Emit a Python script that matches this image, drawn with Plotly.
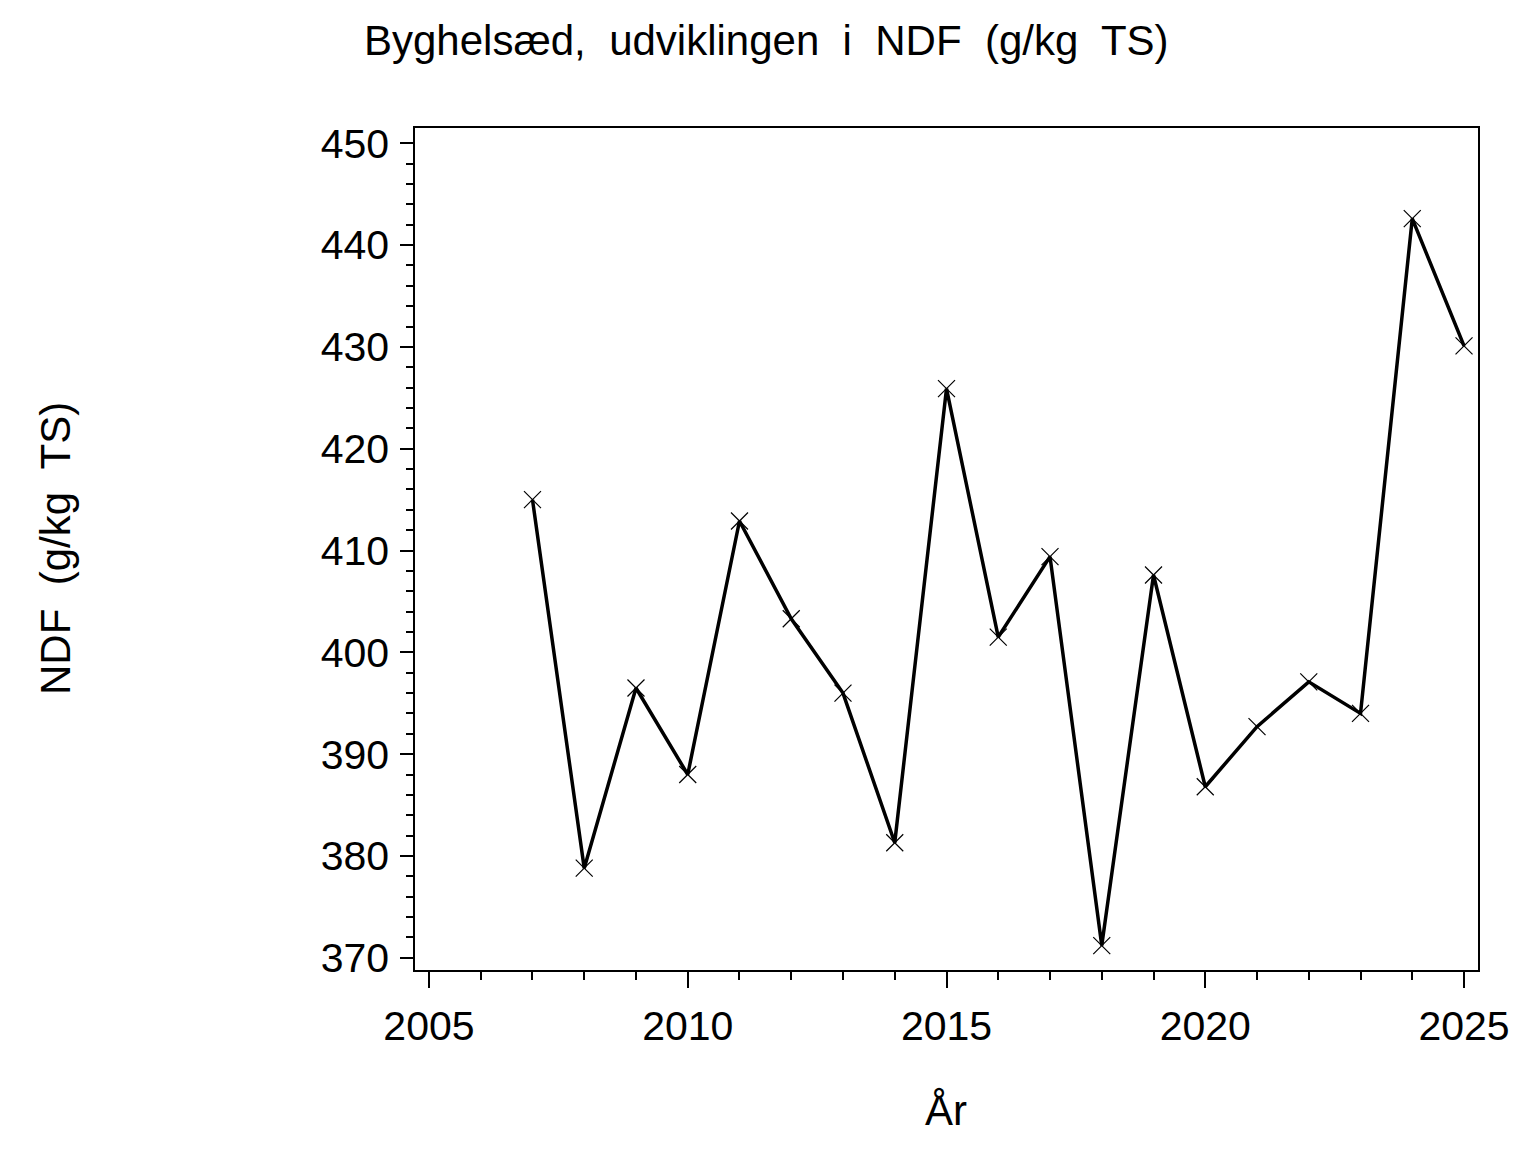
import plotly.graph_objects as go

years = [2007, 2008, 2009, 2010, 2011, 2012, 2013, 2014, 2015, 2016,
         2017, 2018, 2019, 2020, 2021, 2022, 2023, 2024, 2025]
ndf = [415.0, 378.8, 396.5, 388.0, 412.9, 403.3, 396.0, 381.3, 425.9, 401.5,
       409.4, 371.2, 407.6, 386.8, 392.7, 397.1, 394.0, 442.6, 430.1]

title_text = "Byghelsæd,\u00a0 udviklingen\u00a0 i\u00a0 NDF\u00a0 (g/kg\u00a0 TS)"
y_title = "NDF\u00a0 (g/kg\u00a0 TS)"
x_title = "År"
x_ticks = [2005, 2010, 2015, 2020, 2025]
y_ticks = [370, 380, 390, 400, 410, 420, 430, 440, 450]

FONT = "Liberation Sans, Arial, sans-serif"

# page has an 8px body margin; compensate
OFF = 8
W, H = 1536 - OFF, 1152 - OFF
L, R, T, B = 415 - OFF, 58, 128 - OFF, 182
pw = W - L - R
ph = H - T - B


def px(xp):
    return (xp - OFF - L) / pw


def py(yp):
    return (H - B - (yp - OFF)) / ph


fig = go.Figure()
fig.add_trace(go.Scatter(
    x=years, y=ndf, mode="lines+markers",
    line=dict(color="black", width=3.5),
    marker=dict(symbol="x-thin", size=17, line=dict(color="black", width=1.2), color="black"),
    showlegend=False,
))

fig.update_layout(
    width=W, height=H,
    margin=dict(l=L, r=R, t=T, b=B),
    paper_bgcolor="white", plot_bgcolor="white",
    font=dict(family=FONT, color="black", size=40),
)
fig.add_annotation(text=title_text, x=px(766), y=py(40),
                   xref="paper", yref="paper", showarrow=False,
                   xanchor="center", yanchor="middle", font=dict(size=42))
fig.add_annotation(text=y_title, x=px(55), y=py(549),
                   xref="paper", yref="paper", showarrow=False, textangle=-90,
                   xanchor="center", yanchor="middle", font=dict(size=42))
fig.add_annotation(text=x_title, x=px(946), y=py(1110),
                   xref="paper", yref="paper", showarrow=False,
                   xanchor="center", yanchor="middle", font=dict(size=42))

fig.update_xaxes(
    range=[2004.73, 2025.27], tickmode="array", tickvals=x_ticks,
    ticks="outside", ticklen=16, tickwidth=1.5, tickcolor="black",
    showline=True, linecolor="black", linewidth=1.5, mirror=True,
    showgrid=False, zeroline=False,
    tickfont=dict(size=41), ticklabelstandoff=3,
    minor=dict(dtick=1, tick0=2005, ticks="outside", ticklen=8, tickwidth=1.5, tickcolor="black", showgrid=False),
)
fig.update_yaxes(
    range=[368.8, 451.5], tickmode="array", tickvals=y_ticks,
    ticks="outside", ticklen=13, tickwidth=1.5, tickcolor="black",
    showline=True, linecolor="black", linewidth=1.5, mirror=True,
    showgrid=False, zeroline=False,
    tickfont=dict(size=41), ticklabelstandoff=3,
    minor=dict(dtick=2, tick0=370, ticks="outside", ticklen=7, tickwidth=1.5, tickcolor="black", showgrid=False),
)

fig.write_html("out.html")
